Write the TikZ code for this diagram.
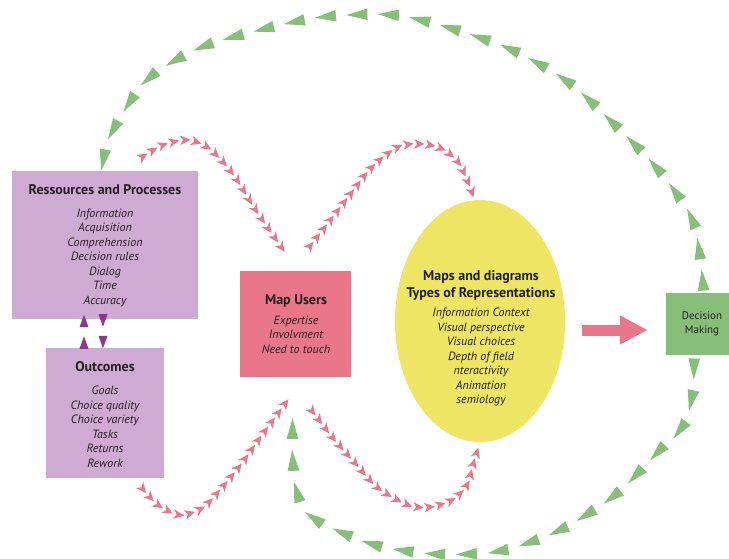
\documentclass[tikz,border=0pt]{standalone}
\usepackage{fontspec}
\setmainfont{PT Sans}
\usetikzlibrary{decorations.markings,shapes.geometric,arrows.meta,calc}
\definecolor{pinkc}{RGB}{233,119,137}
\definecolor{greenc}{RGB}{134,190,122}
\definecolor{lilac}{RGB}{207,170,211}
\definecolor{yell}{RGB}{238,229,100}
\definecolor{violetc}{RGB}{140,55,140}
\definecolor{ink}{RGB}{35,31,32}
\newcommand{\ttlf}{\fontsize{14}{14.5}\selectfont\bfseries\upshape}
\tikzset{
  pinkchain/.style={decoration={markings, mark=between positions 0.004 and 0.998 step 0.993/#1 with {\fill[pinkc] (5.5pt,0) -- (-5pt,4.8pt) -- (-2pt,0) -- (-5pt,-4.8pt) -- cycle;}}, decorate},
  greenchain/.style={decoration={markings, mark=between positions 0.004 and 0.998 step 0.993/#1 with {\fill[greenc] (11pt,0) -- (-10pt,5.8pt) -- (-10pt,-5.8pt) -- cycle;}}, decorate},
  violetpair/.style={decoration={markings, mark=between positions 0 and 1 step 0.999 with {\fill[violetc] (6.5pt,0) -- (-6pt,4.5pt) -- (-6pt,-4.5pt) -- cycle;}}, decorate},
  boxnode/.style={rectangle, inner sep=0pt, text=ink, align=center},
  itm/.style={font=\fontsize{12}{14.5}\selectfont\itshape},
}
\begin{document}
\begin{tikzpicture}[x=1pt,y=-1pt]
\useasboundingbox (0,0) rectangle (729,558);
% boxes
\node[boxnode, fill=lilac, minimum width=186pt, minimum height=148pt] (rp) at (105,245) {};
\node[boxnode, itm] (rpt) at (105,246) {{\ttlf Ressources and Processes}\\[8pt]Information\\Acquisition\\Comprehension\\Decision rules\\Dialog\\Time\\Accuracy};
\node[boxnode, fill=lilac, minimum width=118pt, minimum height=130pt] (out) at (105,413) {};
\node[boxnode, itm] (outt) at (105,414.5) {{\ttlf Outcomes}\\[9pt]Goals\\Choice quality\\Choice variety\\Tasks\\Returns\\Rework};
\node[boxnode, fill=pinkc, minimum width=111pt, minimum height=106pt] (mu) at (295.5,324) {};
\node[boxnode, itm] (mut) at (296,324) {{\ttlf Map Users}\\[5pt]Expertise\\Involvment\\Need to touch};
\node[ellipse, fill=yell, inner sep=0pt, minimum width=170pt, minimum height=242pt] (maps) at (480,321) {};
\node[boxnode, itm] (mapst) at (481,338.5) {{\ttlf Maps and diagrams}\\[2pt]{\ttlf Types of Representations}\\[5pt]Information Context\\Visual perspective\\Visual choices\\Depth of field\\nteractivity\\Animation\\semiology};
\node[boxnode, fill=greenc, minimum width=72pt, minimum height=62pt, font=\fontsize{11}{14}\selectfont] (dm) at (702,324) {Decision\\Making};
% big arrow
\coordinate (ba1) at ($(maps.east)+(17,9)$);
\coordinate (ba2) at ($(dm.west)+(-18,6)$);
\draw[pinkc, line width=11pt, -{Triangle[width=27pt,length=28pt]}] (ba1) -- (ba2);
% violet pairs
\coordinate (v1) at ($(out.north)+(-21,-5)$);
\coordinate (v2) at ($(rp.south)+(-21,2)$);
\coordinate (v3) at ($(rp.south)+(-2,1)$);
\coordinate (v4) at ($(out.north)+(-2,-6)$);
\path[violetpair] (v1) -- (v2);
\path[violetpair] (v3) -- (v4);
% green chains
\coordinate (g1) at ($(dm.north)+(1,-9)$);
\coordinate (g2) at ($(rp.north)+(-2,-9)$);
\path[greenchain=25] plot[smooth] coordinates {(g1) (693,222) (660,172) (615,125) (568,82) (512,50) (450,28) (393,15) (323,17) (260,30) (200,48) (147,80) (112,132) (g2)};
\coordinate (g3) at ($(dm.south)+(-8,11)$);
\coordinate (g4) at ($(mu.south)+(-3,50)$);
\path[greenchain=18] plot[smooth] coordinates {(g3) (692,397) (682,427) (660,450) (615,495) (560,530) (500,551) (435,554) (372,544) (315,519) (298,495) (293,463) (g4)};
% pink chains
\coordinate (p1a) at ($(rp.north east)+(-56,-14)$);
\coordinate (p1b) at ($(mu.north west)+(42,-23)$);
\path[pinkchain=17] plot[smooth] coordinates {(p1a) (163,145) (187,140) (207,147) (223,162) (237,180) (255,209) (p1b)};
\coordinate (p2a) at ($(mu.north)+(14,-24)$);
\coordinate (p2b) at ($(maps.north)+(-8,-7)$);
\path[pinkchain=21] plot[smooth] coordinates {(p2a) (332,218) (352,192) (372,167) (398,147) (422,144) (442,149) (458,162) (468,182) (p2b)};
\coordinate (p3a) at ($(out.south east)+(-22,10)$);
\coordinate (p3b) at ($(mu.south)+(-10,26)$);
\path[pinkchain=18] plot[smooth] coordinates {(p3a) (158,505) (180,515) (202,508) (220,490) (242,463) (262,435) (p3b)};
\coordinate (p4a) at ($(mu.south)+(16,33)$);
\coordinate (p4b) at ($(maps.south)+(-3,10)$);
\path[pinkchain=21] plot[smooth] coordinates {(p4a) (333,438) (355,463) (378,488) (408,505) (430,507) (452,500) (467,485) (473,465) (p4b)};
\end{tikzpicture}
\end{document}
